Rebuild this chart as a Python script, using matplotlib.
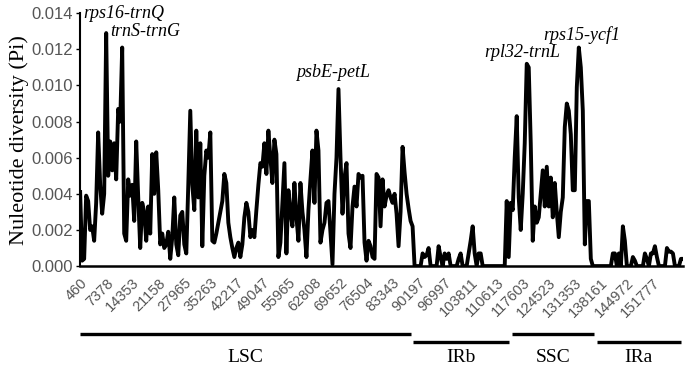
import numpy as np
import matplotlib.pyplot as plt

# nucleotide diversity (Pi) per sliding window
pi_values = [
    0.0041, 0.0003, 0.0004, 0.0039, 0.0036, 0.0020, 0.0022, 0.0014, 0.0035, 0.0074,
    0.0045, 0.0029, 0.0040, 0.0129, 0.0050, 0.0069, 0.0053, 0.0068, 0.0048, 0.0087,
    0.0080, 0.0121, 0.0018, 0.0014, 0.0048, 0.0039, 0.0045, 0.0025, 0.0069, 0.0038,
    0.0010, 0.0035, 0.0030, 0.0014, 0.0033, 0.0018, 0.0062, 0.0040, 0.0063, 0.0042,
    0.0012, 0.0018, 0.0010, 0.0012, 0.0019, 0.0004, 0.0016, 0.0038, 0.0012, 0.0006,
    0.0028, 0.0030, 0.0012, 0.0007, 0.0045, 0.0086, 0.0045, 0.0031, 0.0075, 0.0038,
    0.0068, 0.0011, 0.0050, 0.0064, 0.0060, 0.0074, 0.0014, 0.0013, 0.0018, 0.0024,
    0.0030, 0.0036, 0.0051, 0.0046, 0.0024, 0.0016, 0.0010, 0.0005, 0.0010, 0.0013,
    0.0005, 0.0012, 0.0027, 0.0035, 0.0030, 0.0016, 0.0020, 0.0016, 0.0031, 0.0045,
    0.0057, 0.0055, 0.0068, 0.0051, 0.0075, 0.0060, 0.0046, 0.0070, 0.0062, 0.0005,
    0.0013, 0.0035, 0.0057, 0.0007, 0.0042, 0.0030, 0.0022, 0.0046, 0.0027, 0.0014,
    0.0046, 0.0030, 0.0020, 0.0005, 0.0031, 0.0048, 0.0064, 0.0035, 0.0075, 0.0064,
    0.0013, 0.0020, 0.0024, 0.0035, 0.0036, 0.0018, 0.0001, 0.0040, 0.0060, 0.0098,
    0.0060, 0.0029, 0.0049, 0.0057, 0.0018, 0.0010, 0.0033, 0.0044, 0.0033, 0.0051,
    0.0049, 0.0050, 0.0013, 0.0003, 0.0014, 0.0011, 0.0005, 0.0004, 0.0051, 0.0049,
    0.0022, 0.0048, 0.0033, 0.0039, 0.0042, 0.0038, 0.0035, 0.0040, 0.0029, 0.0011,
    0.0030, 0.0066, 0.0052, 0.0040, 0.0032, 0.0025, 0.0022, 0.0000, 0.0000, 0.0000,
    0.0000, 0.0007, 0.0005, 0.0006, 0.0010, 0.0000, 0.0000, 0.0000, 0.0000, 0.0011,
    0.0005, 0.0000, 0.0007, 0.0004, 0.0007, 0.0000, 0.0000, 0.0000, 0.0000, 0.0004,
    0.0007, 0.0000, 0.0000, 0.0000, 0.0007, 0.0014, 0.0022, 0.0007, 0.0000, 0.0007,
    0.0007, 0.0000, 0.0000, 0.0000, 0.0000, 0.0000, 0.0000, 0.0000, 0.0000, 0.0000,
    0.0000, 0.0000, 0.0000, 0.0036, 0.0005, 0.0035, 0.0031, 0.0060, 0.0083, 0.0038,
    0.0020, 0.0040, 0.0068, 0.0112, 0.0110, 0.0068, 0.0014, 0.0033, 0.0024, 0.0027,
    0.0040, 0.0053, 0.0033, 0.0055, 0.0033, 0.0049, 0.0027, 0.0046, 0.0030, 0.0016,
    0.0030, 0.0038, 0.0077, 0.0090, 0.0086, 0.0073, 0.0042, 0.0042, 0.0099, 0.0121,
    0.0110, 0.0086, 0.0012, 0.0036, 0.0036, 0.0004, 0.0000, 0.0000, 0.0000, 0.0000,
    0.0000, 0.0000, 0.0000, 0.0000, 0.0000, 0.0000, 0.0007, 0.0007, 0.0000, 0.0007,
    0.0000, 0.0022, 0.0014, 0.0000, 0.0000, 0.0000, 0.0005, 0.0003, 0.0000, 0.0000,
    0.0000, 0.0000, 0.0007, 0.0004, 0.0000, 0.0007, 0.0007, 0.0011, 0.0005, 0.0000,
    0.0000, 0.0000, 0.0000, 0.0010, 0.0008, 0.0008, 0.0007, 0.0000, 0.0000, 0.0000,
    0.0004, 0.0004,
]

tick_labels = ['460', '7378', '14353', '21158', '27965', '35263', '42217', '49047',
               '55965', '62808', '69652', '76504', '83343', '90197', '96997', '103811',
               '110613', '117603', '124523', '131353', '138161', '144972', '151777']
tick_step = 13  # windows between labelled positions

# hotspot labels: (text, window index of left edge, y value)
hotspots = ['rps16-trnQ', 'trnS-trnG', 'psbE-petL', 'rpl32-trnL', 'rps15-ycf1']
hotspot_x = [1.5, 15, 108, 202, 231.5]
hotspot_y = [0.0140, 0.0130, 0.0107, 0.0118, 0.0128]

# genome regions (window index ranges)
regions = ['LSC', 'IRb', 'SSC', 'IRa']
region_start = [0, 166, 215.5, 258]
region_end = [165, 214, 256.5, 300]

fig = plt.figure(figsize=(6.85, 3.67), dpi=100)
ax = fig.add_axes([0.117, 0.275, 0.88, 0.689])

x = np.arange(len(pi_values))
ax.plot(x, pi_values, color='black', linewidth=2.8)

ax.set_xlim(0, len(pi_values) - 1)
ax.set_ylim(0, 0.014)
yt = np.arange(0, 0.0141, 0.002)
ax.set_yticks(yt)
ax.set_yticklabels([f'{v:.3f}' for v in yt],
                   family='Liberation Sans', fontsize=12, color='#555555')
ax.set_xticks(np.arange(len(tick_labels)) * tick_step)
ax.set_xticklabels(tick_labels, rotation=45, ha='right', rotation_mode='anchor',
                   family='Liberation Sans', fontsize=10.5, color='#555555')
ax.tick_params(axis='x', length=0, pad=7)
ax.tick_params(axis='y', length=3, width=1, direction='out', pad=2)

ax.spines['top'].set_visible(False)
ax.spines['right'].set_visible(False)
ax.spines['left'].set_linewidth(1.5)
ax.spines['bottom'].set_linewidth(1.8)

ax.set_ylabel('Nuleotide diversity (Pi)', family='Liberation Serif', fontsize=16,
              labelpad=2)

for name, hx, hy in zip(hotspots, hotspot_x, hotspot_y):
    ax.text(hx, hy, name, family='Liberation Serif', style='italic', fontsize=13,
            ha='left', va='center', clip_on=False)

# region bars under the axis
trans = ax.get_xaxis_transform()
bar_y = [-0.27, -0.30, -0.27, -0.30]
for name, s, e, by in zip(regions, region_start, region_end, bar_y):
    ax.plot([s, e], [by, by], color='black', linewidth=2.4, transform=trans,
            clip_on=False, solid_capstyle='butt')
    ax.text((s + e) / 2, -0.36, name, transform=trans, ha='center', va='center',
            family='Liberation Serif', fontsize=14)

fig.savefig('out.png', dpi=100)
